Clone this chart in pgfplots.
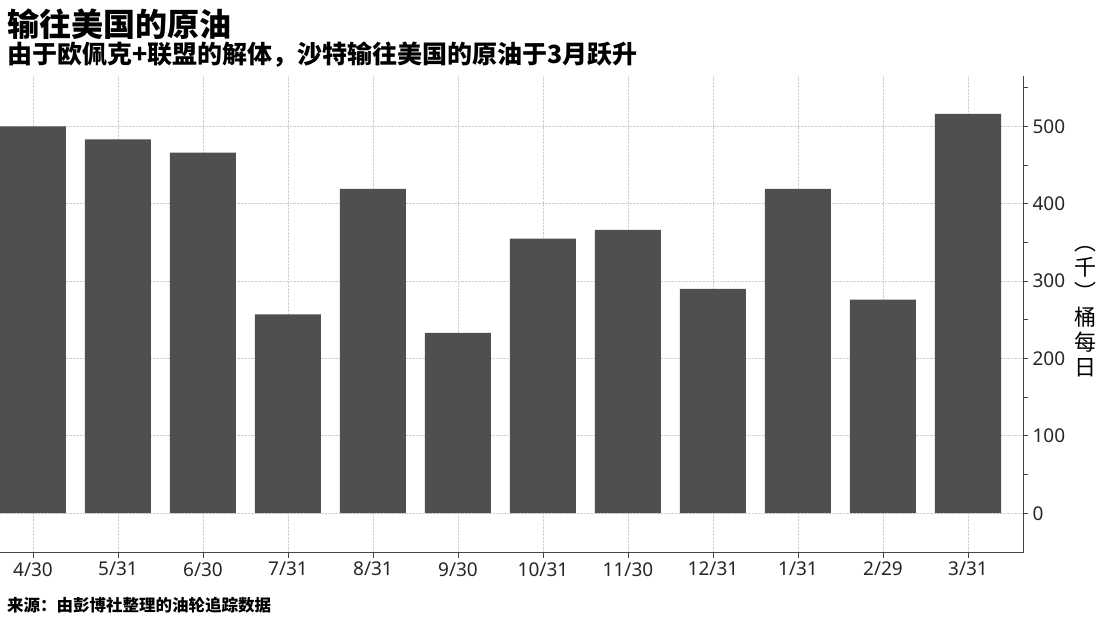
\documentclass[border=0pt]{standalone}
\usepackage{fontspec}
\usepackage{pgfplots}
\pgfplotsset{compat=1.18}
\setmainfont{Noto Sans}
\newfontfamily\cjk{Noto Sans CJK SC}
\definecolor{barcol}{HTML}{4F4F4F}
\definecolor{gridcol}{HTML}{D0D0D0}
\definecolor{axcol}{HTML}{444444}

\begin{document}
\begin{tikzpicture}
\useasboundingbox (0,0) rectangle (1108pt,623pt);
\begin{axis}[
    at={(0pt,70.3pt)}, anchor=south west,
    scale only axis,
    width=1023pt, height=476.7pt,
    xmin=-0.388, xmax=11.647,
    ymin=-51, ymax=565,
    axis x line*=bottom,
    axis y line*=right,
    axis line style={axcol, line width=0.9pt},
    xtick={0,...,11},
    xticklabels={4/30,5/31,6/30,7/31,8/31,9/30,10/31,11/30,12/31,1/31,2/29,3/31},
    ytick={0,100,...,500},
    minor ytick={50,150,...,550},
    tick align=outside,
    major tick length=5pt,
    minor tick length=5pt,
    tick style={axcol, line width=0.8pt},
    grid=major,
    major grid style={gridcol, densely dotted, line width=0.8pt},
    /pgf/number format/assume math mode=true,
    tick label style={font=\fontsize{19}{22}\selectfont, text=black!85},
    xticklabel style={yshift=-1pt},
    yticklabel style={xshift=1pt},
    clip=true,
]
\addplot[ybar, bar width=66pt, fill=barcol, draw=none] coordinates {
    (0,500) (1,483) (2,466) (3,257) (4,419) (5,233)
    (6,355) (7,366) (8,290) (9,419) (10,276) (11,516)
};
\end{axis}
\node[anchor=west, inner sep=0pt] at (7pt,599pt) {\cjk\bfseries\fontsize{32}{34}\selectfont 输往美国的原油};
\node[anchor=west, inner sep=0pt] at (7pt,568pt) {\cjk\bfseries\fontsize{25}{27}\selectfont 由于欧佩克+联盟的解体，沙特输往美国的原油于3月跃升};
\node[anchor=west, inner sep=0pt] at (7pt,18pt) {\cjk\bfseries\fontsize{16.5}{18}\selectfont 来源：由彭博社整理的油轮追踪数据};
\node[align=center, inner sep=0pt, font=\cjk\fontsize{22}{25}\selectfont] at (1085pt,311pt) {︵\\千\\︶\\桶\\每\\日};
\end{tikzpicture}
\end{document}
